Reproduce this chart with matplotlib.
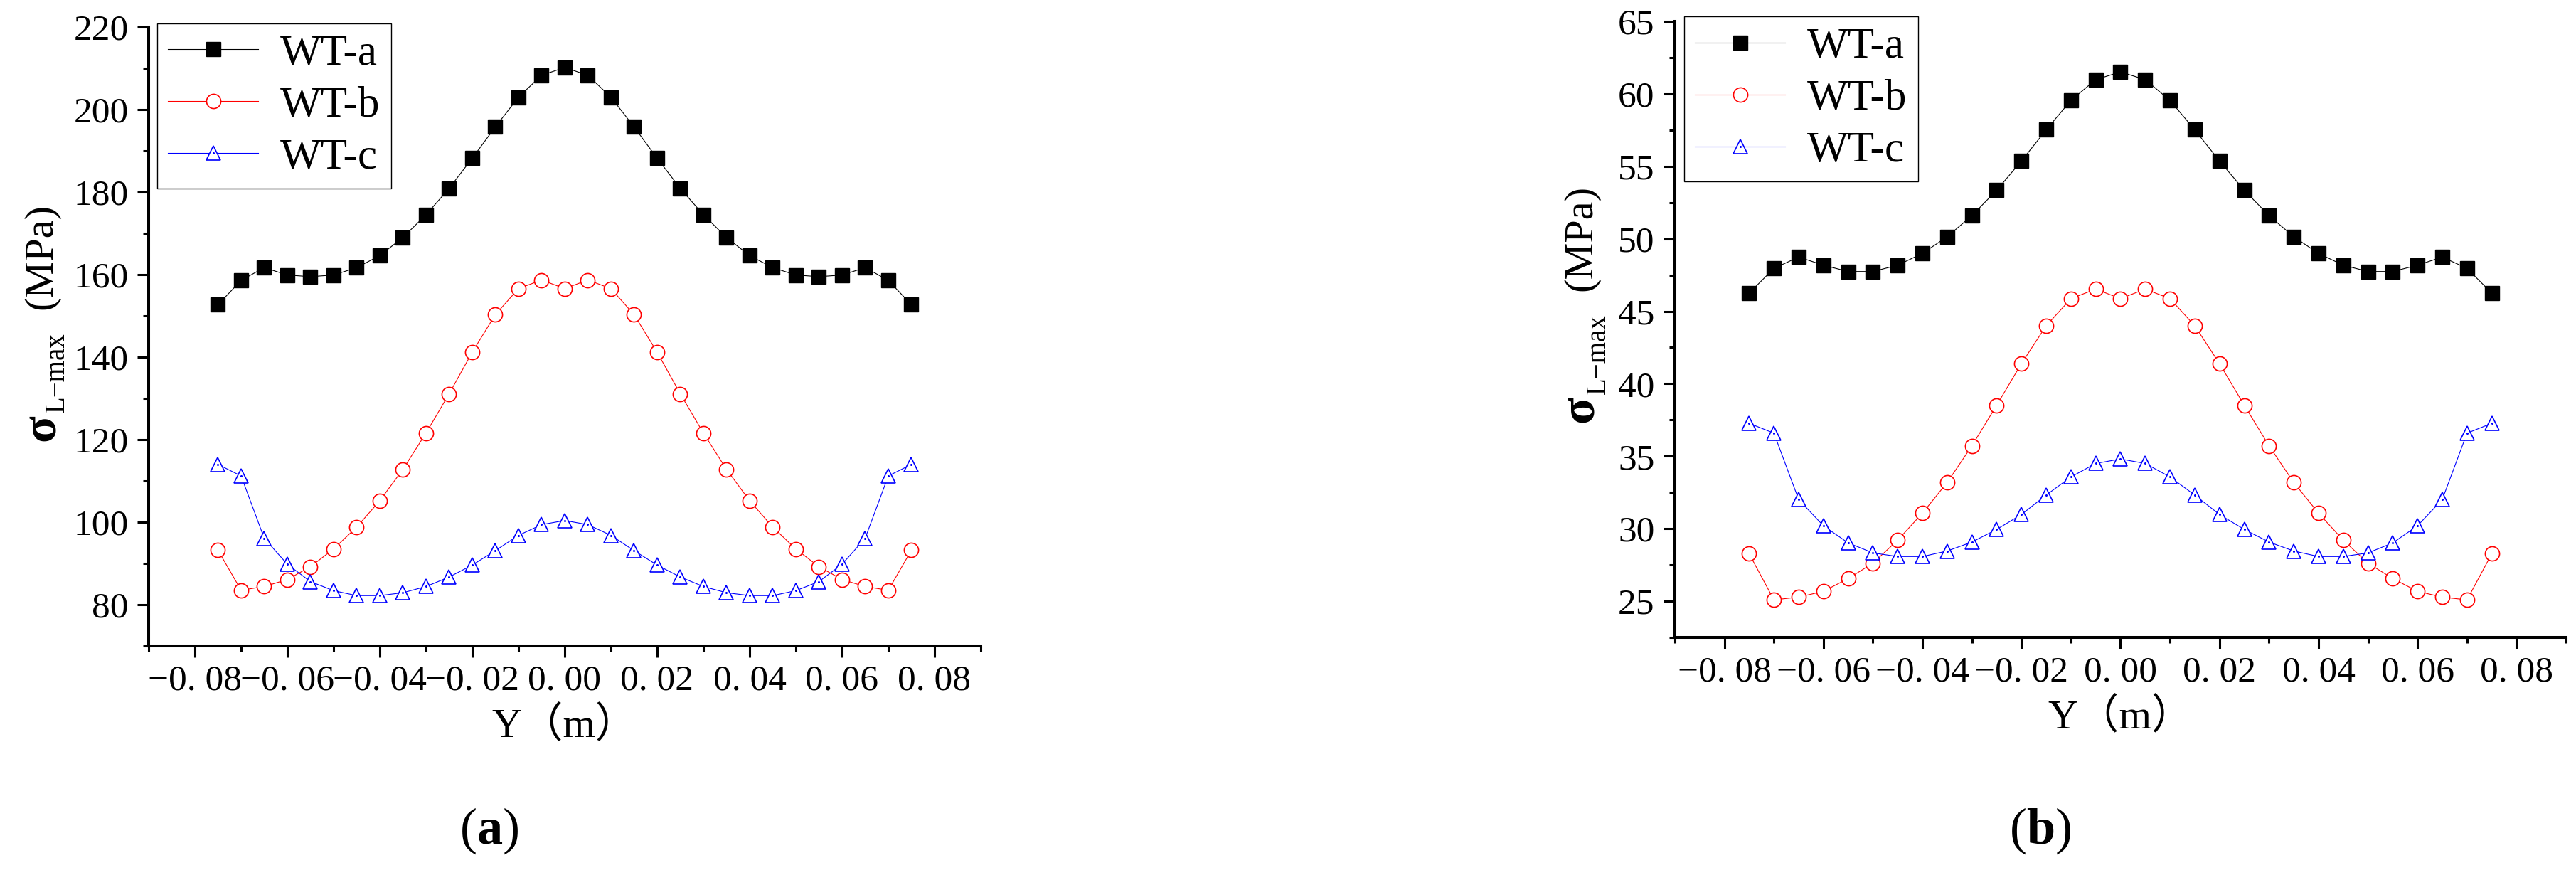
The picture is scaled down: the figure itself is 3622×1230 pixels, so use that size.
import numpy as np
import matplotlib
matplotlib.use("Agg")
import matplotlib.pyplot as plt
from matplotlib.ticker import FixedLocator, FuncFormatter, MultipleLocator
from matplotlib.legend_handler import HandlerTuple

plt.rcParams["font.family"] = ["Liberation Serif", "Noto Sans CJK SC"]
plt.rcParams["mathtext.fontset"] = "custom"
plt.rcParams["mathtext.rm"] = "Liberation Serif"
plt.rcParams["mathtext.it"] = "Liberation Serif:italic"
plt.rcParams["mathtext.bf"] = "Liberation Serif:bold"

# transverse position Y (m)
y_pos = [-0.075, -0.070, -0.065, -0.060, -0.055, -0.050, -0.045, -0.040,
         -0.035, -0.030, -0.025, -0.020, -0.015, -0.010, -0.005, 0.000,
         0.005, 0.010, 0.015, 0.020, 0.025, 0.030, 0.035, 0.040,
         0.045, 0.050, 0.055, 0.060, 0.065, 0.070, 0.075]

# (a) sigma_L-max, MPa
a_wta = [152.7, 158.6, 161.7, 159.9, 159.5, 159.9, 161.7, 164.6, 169.0, 174.5,
         180.9, 188.2, 195.8, 203.0, 208.3, 210.2, 208.3, 203.0, 195.8, 188.2,
         180.9, 174.5, 169.0, 164.6, 161.7, 159.9, 159.5, 159.9, 161.7, 158.6, 152.7]
a_wtb = [93.2, 83.5, 84.4, 86.1, 89.2, 93.5, 98.8, 105.2, 112.8, 121.6,
         131.1, 141.2, 150.3, 156.6, 158.7, 156.6, 158.7, 156.6, 150.3, 141.2,
         131.1, 121.6, 112.8, 105.2, 98.8, 93.5, 89.2, 86.1, 84.4, 83.5, 93.2]
a_wtc = [114.0, 111.2, 96.1, 89.8, 85.6, 83.4, 82.2, 82.2, 82.9, 84.4,
         86.7, 89.6, 93.1, 96.8, 99.4, 100.4, 99.4, 96.8, 93.1, 89.6,
         86.7, 84.4, 82.9, 82.2, 82.2, 83.4, 85.6, 89.8, 96.1, 111.2, 114.0]

# (b) sigma_L-max, MPa
b_wta = [46.25, 47.96, 48.74, 48.18, 47.74, 47.74, 48.18, 48.99, 50.14, 51.60,
         53.35, 55.37, 57.52, 59.55, 60.98, 61.51, 60.98, 59.55, 57.52, 55.37,
         53.35, 51.60, 50.14, 48.99, 48.18, 47.74, 47.74, 48.18, 48.74, 47.96, 46.25]
b_wtb = [28.27, 25.09, 25.28, 25.68, 26.56, 27.62, 29.21, 31.07, 33.19, 35.72,
         38.52, 41.39, 44.00, 45.87, 46.53, 45.87, 46.53, 45.87, 44.00, 41.39,
         38.52, 35.72, 33.19, 31.07, 29.21, 27.62, 26.56, 25.68, 25.28, 25.09, 28.27]
b_wtc = [37.27, 36.59, 32.01, 30.20, 29.02, 28.33, 28.08, 28.08, 28.46, 29.08,
         29.95, 30.98, 32.32, 33.57, 34.50, 34.81, 34.50, 33.57, 32.32, 30.98,
         29.95, 29.08, 28.46, 28.08, 28.08, 28.33, 29.02, 30.20, 32.01, 36.59, 37.27]

series_names = ["WT-a", "WT-b", "WT-c"]
x_major = [-0.08, -0.06, -0.04, -0.02, 0.0, 0.02, 0.04, 0.06, 0.08]
x_minor = [i / 100 for i in range(-9, 10)]

W, H = 3623, 1230
fig = plt.figure(figsize=(W / 100, H / 100), dpi=100)

# axes rect (px), data, ylim, major y ticks, minor step, legend anchor, tag,
# tag x (px), y-label baselines/starts (px): sigma, subscript, unit
panels = [
    ((209, 38, 1379, 908), (a_wta, a_wtb, a_wtc), (70, 220),
     list(range(80, 221, 20)), 10, (0.0103, 1.006), "a", 688,
     ((77, 620), (90, 580), (72, 435))),
    ((2355, 30, 3608, 896), (b_wta, b_wtb, b_wtc), (22.5, 65),
     list(range(25, 66, 5)), 2.5, (0.0104, 1.008), "b", 2869,
     ((2240, 594), (2257, 554), (2237, 409))),
]


def xfmt(v, _):
    s = f"{abs(v):.2f}".replace(".", ". ")
    return ("\u2212" + s) if v < -1e-9 else s


def vtext(px, py, s, **kw):
    # rotated text whose baseline starts at pixel (px, py)
    fig.text(px / W, 1 - py / H, s, rotation=90, rotation_mode="anchor",
             ha="left", va="baseline", **kw)


for (x0, y0, x1, y1), (sa, sb, sc), ylim, yt, ymin_step, anchor, tag, tag_x, ylab in panels:
    ax = fig.add_axes([x0 / W, 1 - y1 / H, (x1 - x0) / W, (y1 - y0) / H])
    la, = ax.plot(y_pos, sa, color="black", lw=0.8, marker="s", ms=14,
                  mfc="black", mec="black", mew=1.0)
    lb, = ax.plot(y_pos, sb, color="red", lw=0.8, marker="o", ms=14.5,
                  mfc="white", mec="red", mew=1.2)
    lc, = ax.plot(y_pos, sc, color="blue", lw=0.8, marker="^", ms=14,
                  mfc="white", mec="blue", mew=1.2)
    dc, = ax.plot(y_pos, sc, ls="none", marker="o", ms=2.2, mfc="blue",
                  mec="blue", mew=0)

    ax.set_xlim(-0.09, 0.09)
    ax.set_ylim(*ylim)
    for side in ("top", "right"):
        ax.spines[side].set_visible(False)
    for side in ("left", "bottom"):
        ax.spines[side].set_linewidth(2.9)

    ax.xaxis.set_major_locator(FixedLocator(x_major))
    ax.xaxis.set_minor_locator(FixedLocator(x_minor))
    ax.xaxis.set_major_formatter(FuncFormatter(xfmt))
    ax.set_yticks(yt)
    ax.yaxis.set_minor_locator(MultipleLocator(ymin_step))
    ax.tick_params(which="major", direction="out", length=11.5, width=2.2,
                   labelsize=37)
    ax.tick_params(which="minor", direction="out", length=5.8, width=2.2)
    ax.tick_params(axis="y", which="major", pad=9)
    ax.tick_params(axis="x", which="major", pad=7)

    ax.set_xlabel("Y（m）", fontsize=42, labelpad=9)

    (sx, sy), (lx, ly), (ux, uy) = ylab
    vtext(sx, sy, "σ", fontsize=50, fontweight="bold")
    vtext(lx, ly, "L\u2212max", fontsize=28)
    vtext(ux, uy, "(MPa)", fontsize=42)

    leg = ax.legend([la, lb, (lc, dc)], series_names,
                    handler_map={tuple: HandlerTuple(ndivide=1)},
                    loc="upper left", bbox_to_anchor=anchor, borderaxespad=0,
                    fontsize=44, numpoints=1, handlelength=2.08,
                    handletextpad=0.5, labelspacing=0.28, borderpad=0.25,
                    fancybox=False, framealpha=1, edgecolor="black")
    leg.get_frame().set_linewidth(1.0)

    fig.text(tag_x / W, 1 - 1168 / H, r"($\mathbf{" + tag + r"}$)",
             ha="center", va="center", fontsize=52)

fig.savefig("out.png", dpi=100)
